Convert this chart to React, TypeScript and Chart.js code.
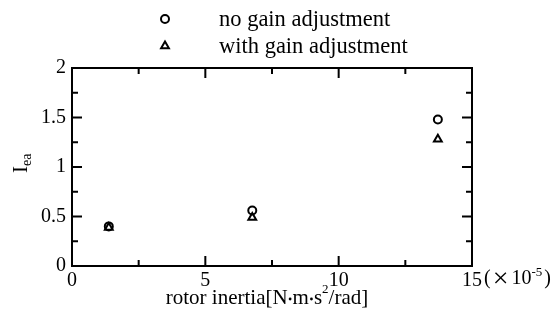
import { useEffect, useRef } from "react";
import { Chart, registerables } from "chart.js";

Chart.register(...registerables);

// ---- data ----
const rotorInertia = [1.38, 6.76, 13.72]; // ×10^-5 N·m·s²/rad
const noGainAdjustment = [0.4, 0.56, 1.48];
const withGainAdjustment = [0.39, 0.49, 1.28];
const seriesLabels = ["no gain adjustment", "with gain adjustment"];
const xRange = [0, 15];
const yRange = [0, 2];
const xStep = 5;
const yStep = 0.5;
const xTitleParts = ["rotor inertia[N", "m", "s", "2", "/rad]"];
const xExponent = ["(", "×", "10", "-5", ")"];
const yTitleParts = ["I", "ea"];

const SERIF = '"Liberation Serif", "Times New Roman", serif';

const framePlugin = {
  id: "framePlugin",
  afterDatasetsDraw(chart: any) {
    const { ctx, chartArea } = chart;
    const { left, right, top, bottom } = chartArea;
    const xs = chart.scales.x;
    const ys = chart.scales.y;
    ctx.save();
    ctx.strokeStyle = "#000";
    ctx.lineWidth = 2;
    ctx.lineCap = "butt";
    ctx.beginPath();
    ctx.rect(left, top, right - left, bottom - top);
    ctx.stroke();

    const major = 10;
    const minor = 6;
    const xt = xs.ticks.map((t: any) => t.value);
    const yt = ys.ticks.map((t: any) => t.value);
    const xMarks: [number, number][] = [];
    xt.forEach((v: number, i: number) => {
      xMarks.push([v, major]);
      if (i < xt.length - 1) xMarks.push([(v + xt[i + 1]) / 2, minor]);
    });
    const yMarks: [number, number][] = [];
    yt.forEach((v: number, i: number) => {
      yMarks.push([v, major]);
      if (i < yt.length - 1) yMarks.push([(v + yt[i + 1]) / 2, minor]);
    });
    ctx.beginPath();
    xMarks.forEach(([v, len]) => {
      const px = xs.getPixelForValue(v);
      ctx.moveTo(px, bottom);
      ctx.lineTo(px, bottom - len);
      ctx.moveTo(px, top);
      ctx.lineTo(px, top + len);
    });
    yMarks.forEach(([v, len]) => {
      const py = ys.getPixelForValue(v);
      ctx.moveTo(left, py);
      ctx.lineTo(left + len, py);
      ctx.moveTo(right, py);
      ctx.lineTo(right - len, py);
    });
    ctx.stroke();

    ctx.fillStyle = "#000";
    // exponent after last x tick label
    const lastPx = xs.getPixelForValue(xRange[1]);
    let cx = lastPx + 12;
    const ty = bottom + 13;
    ctx.textBaseline = "middle";
    ctx.textAlign = "left";
    ctx.font = `20px ${SERIF}`;
    ctx.fillText(xExponent[0], cx, ty);
    cx += ctx.measureText(xExponent[0]).width;
    ctx.font = `28px ${SERIF}`;
    ctx.fillText(xExponent[1], cx + 2, ty + 1);
    cx += ctx.measureText(xExponent[1]).width + 5;
    ctx.font = `20px ${SERIF}`;
    ctx.fillText(xExponent[2], cx, ty);
    cx += ctx.measureText(xExponent[2]).width;
    ctx.font = `13px ${SERIF}`;
    ctx.fillText(xExponent[3], cx, ty - 6);
    cx += ctx.measureText(xExponent[3]).width + 2;
    ctx.font = `20px ${SERIF}`;
    ctx.fillText(xExponent[4], cx, ty);

    // x title
    const titleY = 298;
    const F = 21;
    ctx.font = `${F}px ${SERIF}`;
    const dot = 5;
    const w0 = ctx.measureText(xTitleParts[0]).width;
    const w1 = ctx.measureText(xTitleParts[1]).width;
    const w2 = ctx.measureText(xTitleParts[2]).width;
    const w4 = ctx.measureText(xTitleParts[4]).width;
    ctx.font = `13px ${SERIF}`;
    const w3 = ctx.measureText(xTitleParts[3]).width;
    const total = w0 + dot + w1 + dot + w2 + w3 + w4;
    let tx = 267 - total / 2;
    ctx.font = `${F}px ${SERIF}`;
    ctx.fillText(xTitleParts[0], tx, titleY);
    tx += w0;
    ctx.beginPath();
    ctx.arc(tx + dot / 2, titleY + 1, 1.4, 0, Math.PI * 2);
    ctx.fill();
    tx += dot;
    ctx.fillText(xTitleParts[1], tx, titleY);
    tx += w1;
    ctx.beginPath();
    ctx.arc(tx + dot / 2, titleY + 1, 1.4, 0, Math.PI * 2);
    ctx.fill();
    tx += dot;
    ctx.fillText(xTitleParts[2], tx, titleY);
    tx += w2;
    ctx.font = `13px ${SERIF}`;
    ctx.fillText(xTitleParts[3], tx, titleY - 8);
    tx += w3;
    ctx.font = `${F}px ${SERIF}`;
    ctx.fillText(xTitleParts[4], tx, titleY);

    // y title (rotated)
    ctx.save();
    ctx.translate(27, 173);
    ctx.rotate(-Math.PI / 2);
    ctx.textBaseline = "alphabetic";
    ctx.font = `21px ${SERIF}`;
    ctx.fillText(yTitleParts[0], 0, 0);
    const wi = ctx.measureText(yTitleParts[0]).width;
    ctx.font = `14px ${SERIF}`;
    ctx.fillText(yTitleParts[1], wi, 4);
    ctx.restore();

    // legend
    const lx = 165;
    const ly = [19, 46];
    ctx.lineWidth = 2;
    ctx.beginPath();
    ctx.arc(lx, ly[0], 4, 0, Math.PI * 2);
    ctx.stroke();
    const r = 4.5;
    ctx.beginPath();
    ctx.moveTo(lx, ly[1] - r);
    ctx.lineTo(lx + r * Math.sin((2 * Math.PI) / 3), ly[1] - r * Math.cos((2 * Math.PI) / 3));
    ctx.lineTo(lx + r * Math.sin((4 * Math.PI) / 3), ly[1] - r * Math.cos((4 * Math.PI) / 3));
    ctx.closePath();
    ctx.stroke();
    ctx.font = `22.5px ${SERIF}`;
    ctx.textBaseline = "middle";
    ctx.fillText(seriesLabels[0], 219, ly[0] + 1);
    ctx.fillText(seriesLabels[1], 219, ly[1] + 1);
    ctx.restore();
  },
};

export default function App() {
  const ref = useRef<HTMLCanvasElement>(null);
  useEffect(() => {
    if (!ref.current) return;
    const chart = new Chart(ref.current, {
      type: "scatter",
      data: {
        datasets: [
          {
            label: seriesLabels[0],
            data: rotorInertia.map((x, i) => ({ x, y: noGainAdjustment[i] })),
            pointStyle: "circle",
            pointRadius: 4,
            borderWidth: 2,
            borderColor: "#000",
            backgroundColor: "rgba(0,0,0,0)",
          },
          {
            label: seriesLabels[1],
            data: rotorInertia.map((x, i) => ({ x, y: withGainAdjustment[i] })),
            pointStyle: "triangle",
            pointRadius: 4.5,
            borderWidth: 2,
            borderColor: "#000",
            backgroundColor: "rgba(0,0,0,0)",
          },
        ],
      },
      options: {
        animation: false,
        responsive: true,
        maintainAspectRatio: false,
        layout: { padding: { top: 68, right: 84, left: 0, bottom: 0 } },
        plugins: { legend: { display: false }, tooltip: { enabled: false } },
        scales: {
          x: {
            type: "linear",
            min: xRange[0],
            max: xRange[1],
            grid: { display: false, drawTicks: false },
            border: { display: false },
            ticks: {
              stepSize: xStep,
              color: "#000",
              font: { family: SERIF, size: 20 },
              padding: 3,
              maxRotation: 0,
              callback: (v: any) => String(v),
            },
            afterFit: (s: any) => {
              s.height = 56;
            },
          },
          y: {
            type: "linear",
            min: yRange[0],
            max: yRange[1],
            grid: { display: false, drawTicks: false },
            border: { display: false },
            ticks: {
              stepSize: yStep,
              color: "#000",
              font: { family: SERIF, size: 20 },
              padding: 6,
              callback: (v: any) => String(v),
            },
            afterFit: (s: any) => {
              s.width = 72;
            },
          },
        },
      },
      plugins: [framePlugin],
    });
    return () => chart.destroy();
  }, []);
  return (
    <div style={{ position: "absolute", left: 0, top: 0, width: 556, height: 322, background: "#fff" }}>
      <canvas ref={ref} />
    </div>
  );
}
